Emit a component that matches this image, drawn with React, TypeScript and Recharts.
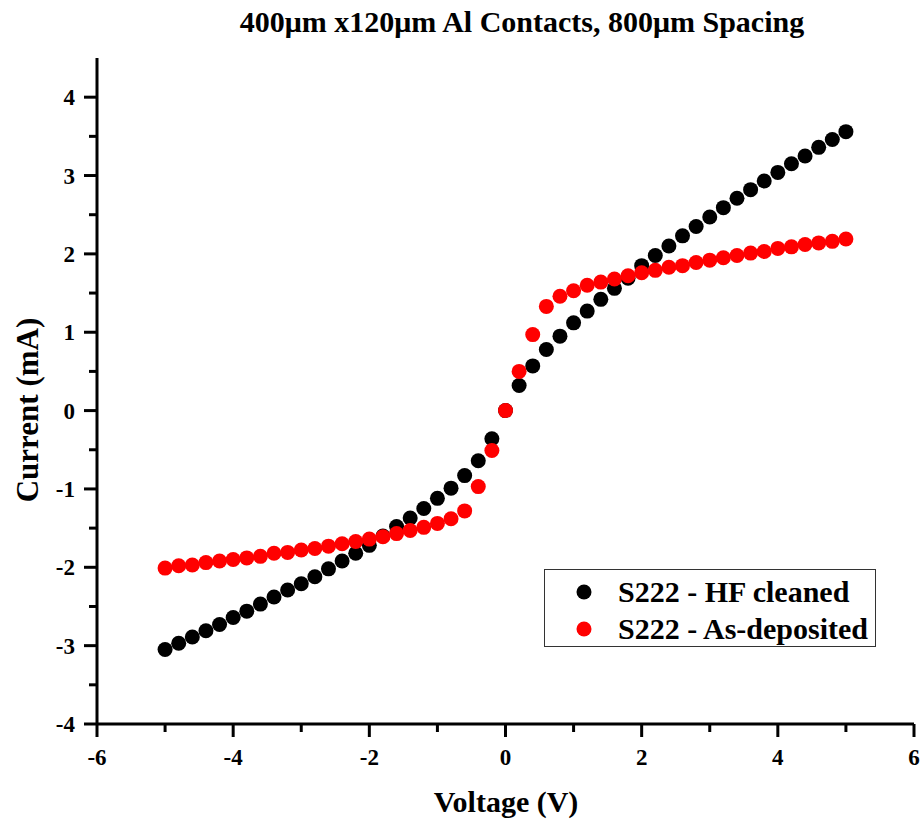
import React from 'react';
import { ScatterChart, Scatter, XAxis, YAxis, Legend } from 'recharts';

const voltage = [
  -5, -4.8, -4.6, -4.4, -4.2, -4, -3.8, -3.6, -3.4, -3.2, -3, -2.8, -2.6, -2.4, -2.2, -2, -1.8, -1.6, -1.4, -1.2, -1, -0.8, -0.6, -0.4, -0.2,
  0,
  0.2, 0.4, 0.6, 0.8, 1, 1.2, 1.4, 1.6, 1.8, 2, 2.2, 2.4, 2.6, 2.8, 3, 3.2, 3.4, 3.6, 3.8, 4, 4.2, 4.4, 4.6, 4.8, 5,
];

const hfCleaned = [
  -3.05, -2.97, -2.89, -2.81, -2.73, -2.64, -2.56, -2.47, -2.38, -2.29, -2.21, -2.12, -2.02, -1.92, -1.82, -1.72, -1.6, -1.48, -1.37, -1.25, -1.12, -0.99, -0.83, -0.64, -0.36,
  0,
  0.32, 0.57, 0.78, 0.95, 1.12, 1.27, 1.42, 1.56, 1.69, 1.85, 1.98, 2.1, 2.23, 2.35, 2.47, 2.59, 2.71, 2.82, 2.93, 3.04, 3.15, 3.25, 3.36, 3.46, 3.56,
];

const asDeposited = [
  -2.01, -1.98, -1.97, -1.94, -1.92, -1.9, -1.88, -1.86, -1.82, -1.81, -1.78, -1.76, -1.73, -1.7, -1.67, -1.64, -1.61, -1.57, -1.53, -1.49, -1.44, -1.38, -1.28, -0.97, -0.51,
  0,
  0.5, 0.97, 1.33, 1.46, 1.53, 1.6, 1.64, 1.68, 1.72, 1.76, 1.79, 1.83, 1.85, 1.89, 1.92, 1.95, 1.98, 2.01, 2.03, 2.07, 2.09, 2.12, 2.14, 2.16, 2.19,
];

const xTicks = [-6, -5, -4, -3, -2, -1, 0, 1, 2, 3, 4, 5, 6];
const xMajor = [-6, -4, -2, 0, 2, 4, 6];
const yTicks = [-4, -3.5, -3, -2.5, -2, -1.5, -1, -0.5, 0, 0.5, 1, 1.5, 2, 2.5, 3, 3.5, 4];
const yMajor = [-4, -3, -2, -1, 0, 1, 2, 3, 4];

const seriesNames = ['S222 - HF cleaned', 'S222 - As-deposited'];
const seriesColors = ['#000000', '#ff0000'];

const titleText = '400\u03bcm x120\u03bcm Al Contacts, 800\u03bcm Spacing';
const xTitle = 'Voltage (V)';
const yTitle = 'Current (mA)';

const FONT = '"Liberation Serif", "Times New Roman", Times, serif';

const hfData = voltage.map((v, i) => ({ v, c: hfCleaned[i] }));
const adData = voltage.map((v, i) => ({ v, c: asDeposited[i] }));

const BottomTick = (props: any) => {
  const { x, y, payload } = props;
  const val = payload.value;
  const major = xMajor.includes(val);
  return (
    <g>
      <line x1={x} x2={x} y1={y} y2={y + (major ? 13 : 8)} stroke="#000" strokeWidth={3} />
      {major && (
        <text x={x} y={y + 41} textAnchor="middle" fontFamily={FONT} fontWeight="bold" fontSize={23} fill="#000">
          {String(val)}
        </text>
      )}
    </g>
  );
};

const TopTick = (props: any) => {
  const { x, y, payload } = props;
  const major = xMajor.includes(payload.value);
  return <line x1={x} x2={x} y1={y} y2={y + (major ? 6 : 4)} stroke="#000" strokeWidth={2} />;
};

const LeftTick = (props: any) => {
  const { x, y, payload } = props;
  const val = payload.value;
  const major = yMajor.includes(val);
  return (
    <g>
      <line x1={x - (major ? 13 : 8)} x2={x} y1={y} y2={y} stroke="#000" strokeWidth={3} />
      {major && (
        <text x={x - 22} y={y + 8} textAnchor="end" fontFamily={FONT} fontWeight="bold" fontSize={23} fill="#000">
          {String(val)}
        </text>
      )}
    </g>
  );
};

const RightTick = (props: any) => {
  const { x, y, payload } = props;
  const major = yMajor.includes(payload.value);
  return <line x1={x - (major ? 6 : 4)} x2={x} y1={y} y2={y} stroke="#000" strokeWidth={2} />;
};

const Dot = (color: string) => (props: any) => (
  <circle cx={props.cx} cy={props.cy} r={7.5} fill={color} />
);

const LegendBox = () => (
  <div
    style={{
      border: '1.5px solid #333',
      background: '#fff',
      width: 332,
      height: 78,
      boxSizing: 'border-box',
      fontFamily: FONT,
      fontWeight: 'bold',
      fontSize: 30,
      color: '#000',
      paddingTop: 3,
    }}
  >
    {seriesNames.map((n, i) => (
      <div key={n} style={{ display: 'flex', alignItems: 'center', height: 37 }}>
        <svg width={73} height={20} style={{ flex: 'none' }}>
          <circle cx={39} cy={10} r={7.5} fill={seriesColors[i]} />
        </svg>
        <span style={{ lineHeight: '37px', whiteSpace: 'nowrap' }}>{n}</span>
      </div>
    ))}
  </div>
);

export default function App() {
  return (
    <div style={{ position: 'absolute', left: 0, top: 0, width: 922, height: 820, background: '#fff' }}>
      <div
        style={{
          position: 'absolute',
          left: 0,
          width: 1044,
          top: 4,
          textAlign: 'center',
          fontFamily: FONT,
          fontWeight: 'bold',
          fontSize: 30,
          lineHeight: '36px',
          color: '#000',
          whiteSpace: 'nowrap',
        }}
      >
        {titleText}
      </div>
      <ScatterChart
        width={922}
        height={820}
        margin={{ top: 58, right: 8, bottom: 36, left: 37 }}
      >
        <XAxis
          xAxisId="b"
          dataKey="v"
          type="number"
          domain={[-6, 6]}
          ticks={xTicks}
          interval={0}
          height={60}
          tickSize={0}
          tickMargin={0}
          tickLine={false}
          axisLine={{ stroke: '#000', strokeWidth: 3 }}
          tick={<BottomTick />}
          allowDataOverflow
        />
        <XAxis
          xAxisId="t"
          orientation="top"
          dataKey="v"
          type="number"
          domain={[-6, 6]}
          ticks={xTicks}
          interval={0}
          height={0}
          tickSize={0}
          tickMargin={0}
          tickLine={false}
          axisLine={{ stroke: '#000', strokeWidth: 2.5 }}
          tick={<TopTick />}
          allowDataOverflow
        />
        <YAxis
          yAxisId="l"
          dataKey="c"
          type="number"
          domain={[-4, 4.5]}
          ticks={yTicks}
          interval={0}
          width={60}
          tickSize={0}
          tickMargin={0}
          tickLine={false}
          axisLine={{ stroke: '#000', strokeWidth: 3 }}
          tick={<LeftTick />}
          allowDataOverflow
        />
        <YAxis
          yAxisId="r"
          orientation="right"
          dataKey="c"
          type="number"
          domain={[-4, 4.5]}
          ticks={yTicks}
          interval={0}
          width={0}
          tickSize={0}
          tickMargin={0}
          tickLine={false}
          axisLine={{ stroke: '#000', strokeWidth: 2.5 }}
          tick={<RightTick />}
          allowDataOverflow
        />
        <Scatter
          name={seriesNames[0]}
          data={hfData}
          xAxisId="b"
          yAxisId="l"
          fill={seriesColors[0]}
          shape={Dot(seriesColors[0])}
          isAnimationActive={false}
        />
        <Scatter
          name={seriesNames[1]}
          data={adData}
          xAxisId="b"
          yAxisId="l"
          fill={seriesColors[1]}
          shape={Dot(seriesColors[1])}
          isAnimationActive={false}
        />
        <Legend
          layout="vertical"
          align="center"
          verticalAlign="middle"
          content={<LegendBox />}
          wrapperStyle={{ position: 'absolute', left: 544, top: 569, width: 332, height: 78 }}
        />
      </ScatterChart>
      <div
        style={{
          position: 'absolute',
          left: 306,
          width: 400,
          top: 784,
          textAlign: 'center',
          fontFamily: FONT,
          fontWeight: 'bold',
          fontSize: 30,
          lineHeight: '36px',
          color: '#000',
          whiteSpace: 'nowrap',
        }}
      >
        {xTitle}
      </div>
      <div
        style={{
          position: 'absolute',
          left: 28 - 150,
          top: 410 - 18,
          width: 300,
          textAlign: 'center',
          fontFamily: FONT,
          fontWeight: 'bold',
          fontSize: 31,
          lineHeight: '36px',
          color: '#000',
          whiteSpace: 'nowrap',
          transform: 'rotate(-90deg)',
          transformOrigin: '150px 18px',
        }}
      >
        {yTitle}
      </div>
    </div>
  );
}
